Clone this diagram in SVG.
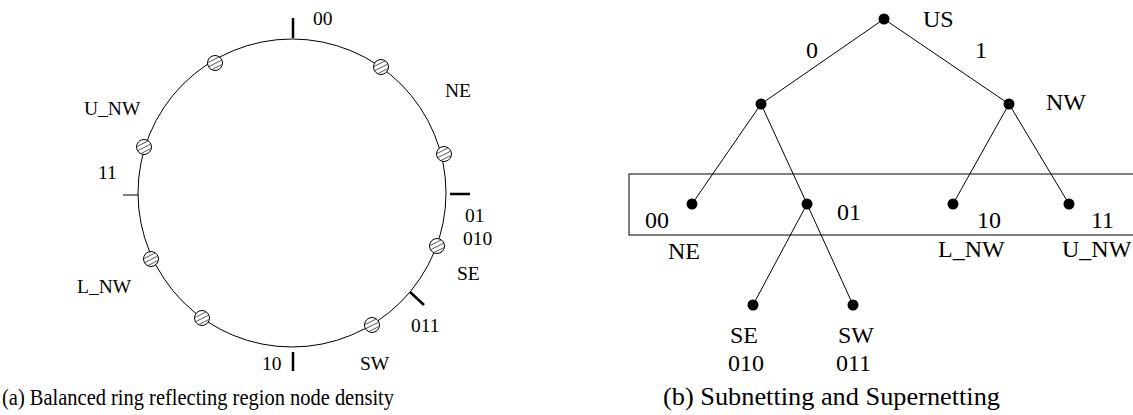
<svg xmlns="http://www.w3.org/2000/svg" width="1133" height="415" viewBox="0 0 1133 415">
<style>
text{font-family:"Liberation Serif","Times New Roman",serif;fill:#000}
.rl{font-size:19.5px}
.tl{font-size:24px}
.cap{font-size:23px}
.ring{fill:none;stroke:#000;stroke-width:1}
.tick{stroke:#000;stroke-width:2.5}
.thin{stroke:#000;stroke-width:1}
.edge{stroke:#000;stroke-width:1}
.dot{fill:#000}
.box{fill:none;stroke:#000;stroke-width:1}
</style>
<defs>
<clipPath id="hc"><circle cx="0" cy="0" r="7"/></clipPath>
<g id="hatch">
<circle cx="0" cy="0" r="7.5" fill="#fff" stroke="#000" stroke-width="1"/>
<g clip-path="url(#hc)" stroke="#444" stroke-width="0.9">
<line x1="-9" y1="0.5" x2="9" y2="-8.5"/>
<line x1="-9" y1="5" x2="9" y2="-4"/>
<line x1="-9" y1="9.5" x2="9" y2="0.5"/>
<line x1="-9" y1="14" x2="9" y2="5"/>
</g>
</g>
</defs>

<!-- (a) ring -->
<g id="ring-a">
<circle class="ring" cx="292" cy="193" r="154"/>
<line class="tick" x1="293" y1="18" x2="293" y2="38"/>
<line class="tick" x1="450" y1="194" x2="470" y2="194"/>
<line class="thin" x1="123" y1="195" x2="138" y2="195"/>
<line class="tick" x1="293" y1="352" x2="293" y2="371"/>
<line class="tick" x1="410" y1="292" x2="424" y2="305"/>
<text class="rl" x="313" y="25">00</text>
<text class="rl" x="445" y="97">NE</text>
<text class="rl" x="84" y="115">U_NW</text>
<text class="rl" x="98" y="179">11</text>
<text class="rl" x="77" y="293">L_NW</text>
<text class="rl" x="465" y="222">01</text>
<text class="rl" x="463" y="245">010</text>
<text class="rl" x="457" y="280">SE</text>
<text class="rl" x="411" y="332">011</text>
<text class="rl" x="262" y="370">10</text>
<text class="rl" x="360" y="370">SW</text>
</g>
<g id="rn1"><use href="#hatch" x="215" y="63"/></g>
<g id="rn2"><use href="#hatch" x="381" y="67"/></g>
<g id="rn3"><use href="#hatch" x="144" y="147"/></g>
<g id="rn4"><use href="#hatch" x="444" y="154"/></g>
<g id="rn5"><use href="#hatch" x="437" y="246"/></g>
<g id="rn6"><use href="#hatch" x="151" y="259"/></g>
<g id="rn7"><use href="#hatch" x="202" y="318"/></g>
<g id="rn8"><use href="#hatch" x="372" y="325"/></g>

<!-- (b) tree -->
<rect class="box" x="629" y="174" width="520" height="61"/>
<g id="connectors">
<line class="edge" x1="884" y1="19" x2="761" y2="104"/>
<line class="edge" x1="884" y1="19" x2="1009" y2="104"/>
<line class="edge" x1="761" y1="104" x2="692" y2="204"/>
<line class="edge" x1="761" y1="104" x2="807" y2="204"/>
<line class="edge" x1="1009" y1="104" x2="953" y2="204"/>
<line class="edge" x1="1009" y1="104" x2="1069" y2="204"/>
<line class="edge" x1="807" y1="204" x2="753" y2="305"/>
<line class="edge" x1="807" y1="204" x2="853" y2="305"/>
</g>
<g id="US"><circle class="dot" cx="884" cy="19" r="5.5"/><text class="tl" x="923" y="27">US</text></g>
<g id="n0"><circle class="dot" cx="761" cy="104" r="5.5"/></g>
<g id="NW"><circle class="dot" cx="1009" cy="104" r="5.5"/><text class="tl" x="1046" y="110">NW</text></g>
<text class="tl" x="806" y="58">0</text>
<text class="tl" x="975" y="58">1</text>
<g id="n00"><circle class="dot" cx="692" cy="204" r="5.5"/><text class="tl" x="645" y="228">00</text><text class="tl" x="668" y="259">NE</text></g>
<g id="n01"><circle class="dot" cx="807" cy="204" r="5.5"/><text class="tl" x="837" y="220">01</text></g>
<g id="n10"><circle class="dot" cx="953" cy="204" r="5.5"/><text class="tl" x="977" y="228">10</text><text class="tl" x="938" y="257">L_NW</text></g>
<g id="n11"><circle class="dot" cx="1069" cy="204" r="5.5"/><text class="tl" x="1091" y="228">11</text><text class="tl" x="1062" y="257">U_NW</text></g>
<g id="n010"><circle class="dot" cx="753" cy="305" r="5.5"/><text class="tl" x="730" y="343">SE</text><text class="tl" x="728" y="371">010</text></g>
<g id="n011"><circle class="dot" cx="853" cy="305" r="5.5"/><text class="tl" x="838" y="343">SW</text><text class="tl" x="836" y="371">011</text></g>

<text class="cap" x="2" y="405" font-size="22" textLength="392" lengthAdjust="spacingAndGlyphs">(a) Balanced ring reflecting region node density</text>
<text class="cap" x="663" y="405" style="font-size:25px" textLength="337" lengthAdjust="spacingAndGlyphs">(b) Subnetting and Supernetting</text>
</svg>
